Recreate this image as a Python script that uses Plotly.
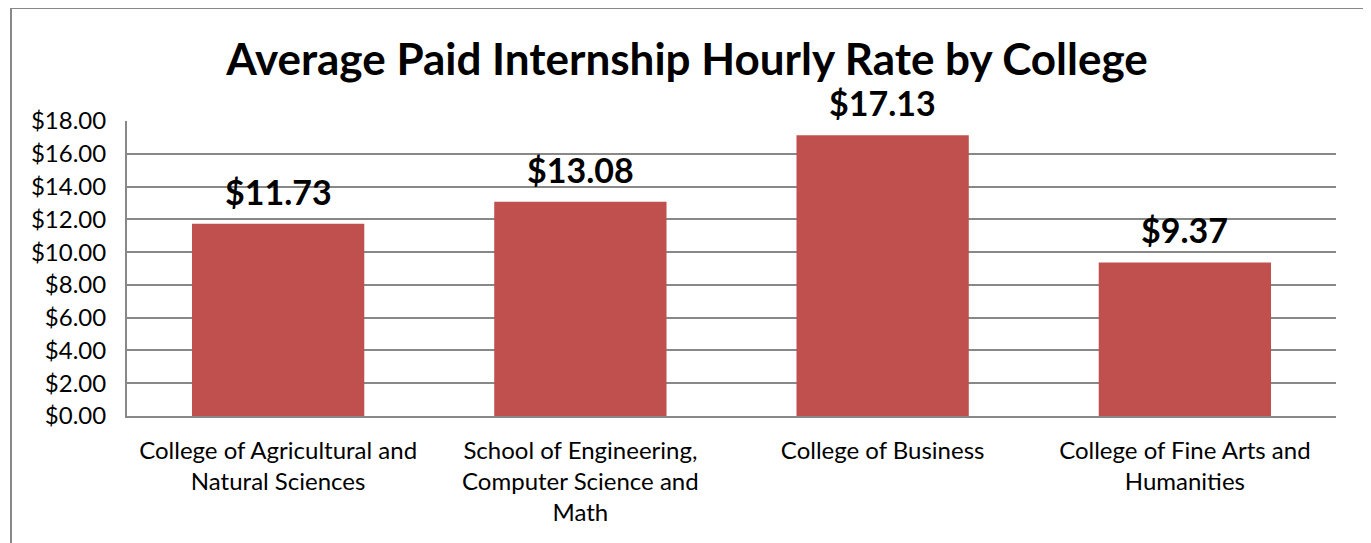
import plotly.graph_objects as go

categories = ["College of Agricultural and<br>Natural Sciences",
              "School of Engineering,<br>Computer Science and<br>Math",
              "College of Business",
              "College of Fine Arts and<br>Humanities"]
values = [11.73, 13.08, 17.13, 9.37]
labels = ["$11.73", "$13.08", "$17.13", "$9.37"]

FONT = "Lato, 'Open Sans', sans-serif"

fig = go.Figure(go.Bar(
    x=categories, y=values,
    marker=dict(color="#C0504D", line=dict(width=0)),
    cliponaxis=False,
))

# page body has an 8px margin; compensate
OFF = 8
W, H = 1371 - OFF, 543 - OFF
L, R, T, B = 127 - OFF, 35, 121 - OFF, 127
pw, ph = W - L - R, H - T - B

def px_x(p):
    return (p - OFF - L) / pw

def px_y(p):
    return (H - B - (p - OFF)) / ph

annotations = [dict(x=c, y=v, text="<b>%s</b>" % t, showarrow=False,
                    xref="x", yref="y", yanchor="bottom", yshift=10,
                    font=dict(size=34, family=FONT, color="black"))
               for c, v, t in zip(categories, values, labels)]

fig.update_layout(
    width=W, height=H,
    margin=dict(l=L, r=R, t=T, b=B),
    paper_bgcolor="white", plot_bgcolor="white",
    bargap=0.43,
    showlegend=False,
    title=dict(text="<b>Average Paid Internship Hourly Rate by College</b>",
               x=px_x(687), xanchor="center", xref="paper",
               y=1 - (60 - OFF) / H, yanchor="middle",
               font=dict(size=44, family=FONT, color="black")),
    font=dict(family=FONT, color="black"),
    xaxis=dict(showline=True, linecolor="#888888", linewidth=2,
               tickfont=dict(size=24, family=FONT, color="black"),
               ticks="", showgrid=False, ticklabelstandoff=12),
    yaxis=dict(range=[0, 18], dtick=2, tickformat="$.2f",
               showgrid=True, gridcolor="#888888", gridwidth=1.5,
               showline=True, linecolor="#888888", linewidth=2,
               ticks="", tickfont=dict(size=24, family=FONT, color="black"),
               zeroline=False, ticklabelstandoff=14),
    annotations=annotations,
    shapes=[dict(type="rect", xref="paper", yref="paper",
                 x0=px_x(11), x1=px_x(1365), y0=px_y(560), y1=px_y(8),
                 line=dict(color="#888888", width=2), layer="below")],
)

fig.write_html("out.html")
